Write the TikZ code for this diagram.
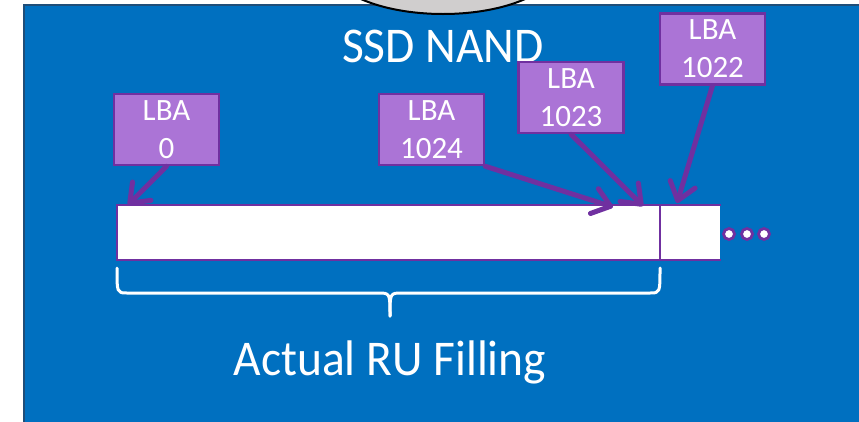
\documentclass[tikz,border=0pt]{standalone}
\usepackage{fontspec}
\setmainfont{Carlito}
\newfontfamily\narrowfont[FakeStretch=0.95]{Carlito}
\usetikzlibrary{shapes.geometric,arrows.meta}
\definecolor{slideblue}{HTML}{0070C0}
\definecolor{slideedge}{HTML}{1F4E79}
\definecolor{lbafill}{HTML}{AB74D6}
\definecolor{lbaedge}{HTML}{7030A0}
\definecolor{capgray}{HTML}{D0CECE}
\tikzset{
  lba/.style={draw=lbaedge, line width=2.5pt, fill=lbafill, text=white,
    minimum width=105pt, minimum height=71pt, inner sep=0pt, align=center,
    font=\fontsize{31}{38}\selectfont},
  ptr/.style={draw=lbaedge, line width=5pt, line cap=round,
    -{Straight Barb[length=17pt,width=26pt,round]}},
  cell/.style={fill=white, inner sep=0pt, minimum height=55pt},
  big/.style={font=\narrowfont\fontsize{50}{60}\selectfont, text=white, inner sep=0pt},
  dotmark/.style={circle, draw=lbaedge, fill=white, line width=2.8pt,
    minimum size=11pt, inner sep=0pt},
  brace/.style={draw=white, line width=3pt, line cap=round, line join=round}
}
\begin{document}
\begin{tikzpicture}[x=1pt,y=-1pt]
\useasboundingbox (0,0) rectangle (859,421);
\clip (0,0) rectangle (859,421);
\fill[white] (0,0) rectangle (859,421);
% panel
\draw[slideedge, line width=1.5pt, fill=slideblue] (24,5) rectangle (880,440);
\node[ellipse, draw=black, line width=2pt, fill=capgray,
  minimum width=230pt, minimum height=100pt] (cap) at (443,-36) {};
\node[big, anchor=base] (title) at (443,62) {SSD NAND};
% storage row
\node[cell, minimum width=543pt] (ru) at (388.5,232.5) {};
\node[cell, minimum width=60pt, anchor=west] (nxt) at (ru.east) {};
\draw[lbaedge, line width=2.5pt] (nxt.north east) -- (ru.north west)
  -- (ru.south west) -- (nxt.south east);
\draw[lbaedge, line width=2pt] (ru.north east) -- (ru.south east);
\node[dotmark] (d1) at (729,234) {};
\node[dotmark] (d2) at (747,234) {};
\node[dotmark] (d3) at (764,234) {};
% brace and caption
\draw[brace] (117,268) .. controls (117,293) .. (127,293) -- (378,293)
  .. controls (390,293) .. (390,316);
\draw[brace] (660,268) .. controls (660,293) .. (650,293) -- (402,293)
  .. controls (390,293) .. (390,316);
\node[big, anchor=base] (caption) at (390,375) {Actual RU Filling};
% LBA labels
\node[lba] (l0) at (166.5,129.5) {LBA\\0};
\node[lba] (l1024) at (431.5,129.5) {LBA\\1024};
\node[lba] (l1023) at (571,97.5) {LBA\\1023};
\node[lba] (l1022) at (712.5,49) {LBA\\1022};
% arrow targets on the row
\coordinate (t0) at (128,205);
\coordinate (t1024) at (613,207);
\coordinate (t1023) at (643,206);
\coordinate (t1022) at (677,203);
\draw[ptr] (l0.south) -- (t0);
\draw[ptr] (l1024.south east) -- (t1024);
\draw[ptr] (l1023.south) -- (t1023);
\draw[ptr] (l1022.south) -- (t1022);
\end{tikzpicture}
\end{document}
